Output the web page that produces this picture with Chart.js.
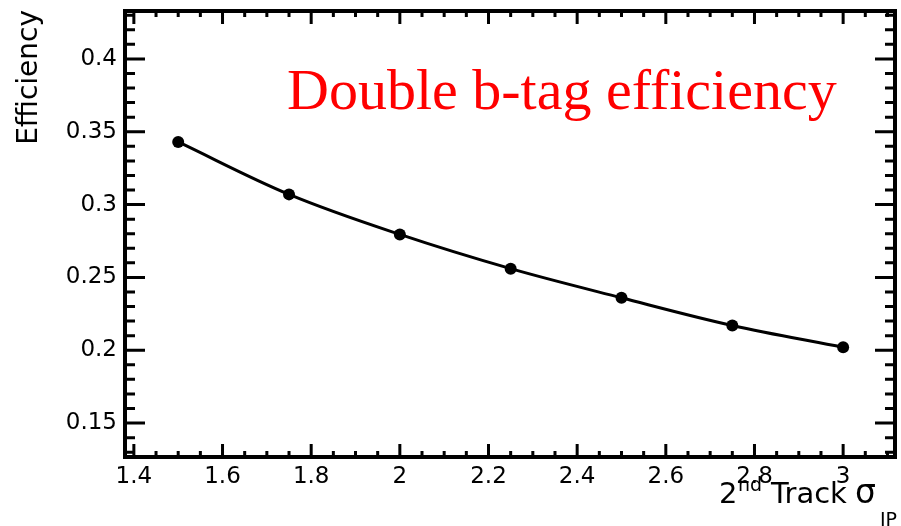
<!DOCTYPE html>
<html>
<head>
<meta charset="utf-8">
<script src="https://cdn.jsdelivr.net/npm/chart.js@4/dist/chart.umd.min.js"></script>
<style>
  body { margin: 0; background: #fff; }
  #wrap { width: 901px; height: 526px; position: relative; }
</style>
</head>
<body>
<div id="wrap"><canvas id="effChart"></canvas></div>
<script>
// cut value on the 2nd track IP significance
const sigmaCuts = [1.5, 1.75, 2, 2.25, 2.5, 2.75, 3];
const efficiency = [0.343, 0.307, 0.2795, 0.256, 0.236, 0.217, 0.202];

const xTicks = [1.4, 1.6, 1.8, 2, 2.2, 2.4, 2.6, 2.8, 3];
const yTicks = [0.15, 0.2, 0.25, 0.3, 0.35, 0.4];

const titleText = 'Double b-tag efficiency';
const yTitle = 'Efficiency';

const fmt = v => String(+Number(v).toFixed(3));

// ROOT style frame with inner ticks on all four sides
const rootFrame = {
    id: 'rootFrame',
    afterDraw(chart) {
        const ctx = chart.ctx;
        const a = chart.chartArea;
        const xs = chart.scales.x, ys = chart.scales.y;
        ctx.save();
        ctx.strokeStyle = '#000';
        ctx.lineWidth = 3;
        ctx.beginPath();
        for (let i = 28; i <= 62; i++) {
            const px = xs.getPixelForValue(i / 20);
            if (px < a.left || px > a.right) continue;
            const len = (i % 4 === 0) ? 13 : 6;
            ctx.moveTo(px, a.bottom); ctx.lineTo(px, a.bottom - len);
            ctx.moveTo(px, a.top); ctx.lineTo(px, a.top + len);
        }
        for (let i = 13; i <= 43; i++) {
            const py = ys.getPixelForValue(i / 100);
            if (py < a.top || py > a.bottom) continue;
            const len = (i % 5 === 0) ? 20 : 10;
            ctx.moveTo(a.left, py); ctx.lineTo(a.left + len, py);
            ctx.moveTo(a.right, py); ctx.lineTo(a.right - len, py);
        }
        ctx.stroke();
        ctx.lineWidth = 4;
        ctx.strokeRect(a.left, a.top, a.right - a.left, a.bottom - a.top);

        // title
        ctx.fillStyle = '#ff0000';
        ctx.font = '58px "Liberation Serif", "Times New Roman", serif';
        ctx.textAlign = 'left';
        ctx.textBaseline = 'alphabetic';
        ctx.fillText(titleText, 287, 109);

        // y axis title
        ctx.fillStyle = '#000';
        ctx.font = '28px "DejaVu Sans", sans-serif';
        ctx.save();
        ctx.translate(37, 10);
        ctx.rotate(-Math.PI / 2);
        ctx.textAlign = 'right';
        ctx.fillText(yTitle, 0, 0);
        ctx.restore();

        // x axis title: 2^nd Track sigma_IP
        const base = 503;
        ctx.textAlign = 'left';
        ctx.font = '29px "DejaVu Sans", sans-serif';
        ctx.fillText('2', 719, base);
        ctx.font = '19px "DejaVu Sans", sans-serif';
        ctx.fillText('nd', 738, base - 12);
        ctx.font = '29px "DejaVu Sans", sans-serif';
        ctx.fillText('Track', 771, base);
        ctx.font = '33px "DejaVu Sans", sans-serif';
        ctx.fillText('σ', 855, base);
        ctx.font = '19px "DejaVu Sans", sans-serif';
        ctx.fillText('IP', 880, base + 23);
        ctx.restore();
    }
};

const ctx = document.getElementById('effChart').getContext('2d');
new Chart(ctx, {
    type: 'line',
    data: {
        datasets: [{
            label: 'Double b-tag efficiency',
            data: sigmaCuts.map((s, i) => ({ x: s, y: efficiency[i] })),
            borderColor: '#000',
            backgroundColor: '#000',
            borderWidth: 3,
            pointRadius: 6,
            pointBorderWidth: 0,
            tension: 0.35,
            fill: false
        }]
    },
    options: {
        responsive: true,
        maintainAspectRatio: false,
        animation: false,
        layout: { padding: { top: 11, right: 2, left: 0, bottom: 0 } },
        plugins: {
            legend: { display: false },
            tooltip: { enabled: false }
        },
        scales: {
            x: {
                type: 'linear',
                min: 1.38,
                max: 3.117,
                afterBuildTicks: s => { s.ticks = xTicks.map(v => ({ value: v })); },
                afterFit: s => { s.height = 526 - 457; s.paddingLeft = 0; s.paddingRight = 0; },
                grid: { display: false, drawTicks: false },
                border: { display: false },
                ticks: {
                    color: '#000',
                    padding: 6,
                    maxRotation: 0,
                    autoSkip: false,
                    font: { family: '"DejaVu Sans", sans-serif', size: 23 },
                    callback: v => fmt(v)
                }
            },
            y: {
                type: 'linear',
                min: 0.1267,
                max: 0.4329,
                afterBuildTicks: s => { s.ticks = yTicks.map(v => ({ value: v })); },
                afterFit: s => { s.width = 125; s.paddingTop = 0; s.paddingBottom = 0; },
                grid: { display: false, drawTicks: false },
                border: { display: false },
                ticks: {
                    color: '#000',
                    padding: 8,
                    autoSkip: false,
                    font: { family: '"DejaVu Sans", sans-serif', size: 23 },
                    callback: v => fmt(v)
                }
            }
        }
    },
    plugins: [rootFrame]
});
</script>
</body>
</html>
